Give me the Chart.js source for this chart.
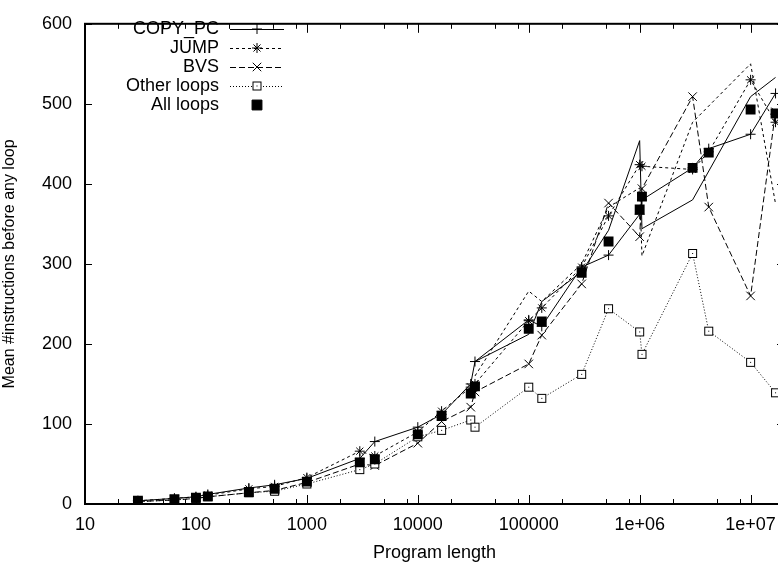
<!DOCTYPE html>
<html>
<head>
<meta charset="utf-8">
<script src="https://cdn.jsdelivr.net/npm/chart.js@4.4.0/dist/chart.umd.min.js"></script>
<style>
html, body { margin: 0; padding: 0; background: #fff; overflow: hidden; }
#wrap { width: 778px; height: 564px; overflow: hidden; }
</style>
</head>
<body>
<div id="wrap"><canvas id="chart" width="800" height="564"></canvas></div>
<script>
// program lengths (x)
var lengths = [30, 64, 100, 128, 300, 512, 1000, 3000, 4096, 10000, 16384, 30000, 32768,
               100000, 131072, 300000, 524288, 1000000, 1048576, 3000000, 4194304, 10000000, 16777216];

var copyPc = [4, 7, 9, 12, 20, 24, 32, 57, 78, 96, 112, 150, 178, 230, 222, 296, 311, 362, 380, 420, 444, 462, 513];
var jump   = [4, 7, 9, 11, 19, 22, 33, 66, 60, 90, 116, 146, 150, 229, 245, 296, 360, 424, 422, 418, 440, 530, 477];
var bvs    = [3, 5, 7, 9, 14, 17, 27, 50, 48, 76, 103, 121, 140, 175, 211, 275, 376, 334, 394, 509, 371, 260, 490];
var other  = [3, 5, 7, 9, 14, 16, 25, 43, 50, 84, 92, 105, 96, 146, 132, 162, 244, 215, 187, 313, 216, 177, 139];
var all    = [4, 6, 8, 9.5, 15, 19, 28, 52, 56, 87, 110, 138, 147, 219, 228, 289, 328, 368, 384, 420, 439, 493, 488];

// extra unlabelled lines (no markers)
var extraLengths = [32768, 100000, 131072, 300000, 524288, 1000000, 1048576, 3000000, 10000000, 16777216];
var solidExtra = [178, 212, 253, 290, 342, 454, 344, 380, 509, 533];
var dotExtra   = [160, 266, 253, 300, 371, 395, 310, 477, 550, 375];

var xTicks = [10, 100, 1000, 10000, 100000, 1000000, 10000000];

function pts(xs, ys) {
    return xs.map(function(x, i) { return {x: x, y: ys[i]}; });
}

// open square with a dot in the middle (gnuplot style)
var boxMark = document.createElement('canvas');
boxMark.width = 11; boxMark.height = 11;
(function() {
    var c = boxMark.getContext('2d');
    c.fillStyle = '#fff';
    c.fillRect(1, 1, 9, 9);
    c.strokeStyle = '#000';
    c.lineWidth = 1;
    c.strokeRect(1.5, 1.5, 8, 8);
    c.fillStyle = '#000';
    c.fillRect(5, 5, 1, 1);
})();

var FONT = '"Liberation Sans", Arial, sans-serif';

var frame = {
    id: 'frame',
    beforeDatasetsDraw: function(chart) {
        var ctx = chart.ctx, a = chart.chartArea;
        var xs = chart.scales.x, ys = chart.scales.y;
        ctx.save();
        ctx.strokeStyle = '#000';
        ctx.lineWidth = 1;
        ctx.beginPath();
        ys.ticks.forEach(function(t) {
            var py = Math.round(ys.getPixelForValue(t.value)) + 0.5;
            ctx.moveTo(a.left, py); ctx.lineTo(a.left + 7, py);
            ctx.moveTo(a.right, py); ctx.lineTo(a.right - 7, py);
        });
        xTicks.forEach(function(d) {
            [1, 2, 5, 8].forEach(function(m) {
                var v = d * m;
                if (v > xs.max) return;
                var len = m === 1 ? 9 : 5;
                var px = Math.round(xs.getPixelForValue(v)) + 0.5;
                ctx.moveTo(px, a.bottom); ctx.lineTo(px, a.bottom - len);
                ctx.moveTo(px, a.top); ctx.lineTo(px, a.top + len);
            });
        });
        ctx.stroke();
        ctx.lineWidth = 2;
        ctx.strokeRect(a.left, a.top, a.right - a.left, a.bottom - a.top);
        ctx.restore();
    },
    afterDatasetsDraw: function(chart) {
        var ctx = chart.ctx;
        ctx.save();
        ctx.font = '18px ' + FONT;
        ctx.textAlign = 'right';
        ctx.textBaseline = 'middle';
        var row = 0;
        chart.data.datasets.forEach(function(ds) {
            if (!ds.label) return;
            var y = 29 + row * 19;
            ctx.fillStyle = '#000';
            ctx.fillText(ds.label, 219, y);
            if (ds.showLine !== false) {
                ctx.beginPath();
                ctx.setLineDash(ds.borderDash || []);
                ctx.lineWidth = 1;
                ctx.strokeStyle = '#000';
                ctx.moveTo(230, y + 0.5); ctx.lineTo(284, y + 0.5);
                ctx.stroke();
                ctx.setLineDash([]);
            }
            ctx.fillStyle = ds.pointBackgroundColor;
            ctx.strokeStyle = '#000';
            Chart.helpers.drawPoint(ctx, {
                pointStyle: ds.pointStyle, radius: ds.pointRadius,
                rotation: 0, borderWidth: 1
            }, 257, y);
            row++;
        });
        ctx.restore();
    }
};

function series(label, ys, dash, style, radius, fill, order) {
    return {
        label: label,
        data: pts(lengths, ys),
        borderColor: '#000',
        borderWidth: 1,
        borderDash: dash,
        pointStyle: style,
        pointRadius: radius,
        pointBorderWidth: 1,
        pointBorderColor: '#000',
        pointBackgroundColor: fill,
        fill: false,
        tension: 0,
        order: order
    };
}

var datasets = [
    series('COPY_PC', copyPc, [], 'cross', 5, '#000', 5),
    series('JUMP', jump, [3, 3], 'star', 5, '#000', 4),
    series('BVS', bvs, [6, 3], 'crossRot', 6, '#000', 3),
    series('Other loops', other, [1, 2], boxMark, 5, '#fff', 2),
    {
        label: 'All loops',
        data: pts(lengths, all),
        showLine: false,
        pointStyle: 'rect',
        pointRadius: 7,
        pointBorderWidth: 0,
        pointBackgroundColor: '#000',
        pointBorderColor: '#000',
        order: 0
    },
    {
        label: '',
        data: pts(extraLengths, solidExtra),
        borderColor: '#000', borderWidth: 1, pointRadius: 0, tension: 0, order: 6
    },
    {
        label: '',
        data: pts(extraLengths, dotExtra),
        borderColor: '#000', borderWidth: 1, borderDash: [3, 3], pointRadius: 0, tension: 0, order: 7
    }
];

new Chart(document.getElementById('chart').getContext('2d'), {
    type: 'line',
    data: { datasets: datasets },
    options: {
        responsive: false,
        animation: false,
        devicePixelRatio: 1,
        layout: { padding: { top: 12, right: 16, left: 0, bottom: 0 } },
        plugins: {
            legend: { display: false },
            tooltip: { enabled: false }
        },
        scales: {
            x: {
                type: 'logarithmic',
                min: 10,
                max: 20000000,
                grid: { display: false, drawTicks: false },
                border: { display: false },
                afterBuildTicks: function(scale) {
                    scale.ticks = xTicks.map(function(v) { return {value: v}; });
                },
                afterFit: function(scale) { scale.height = 60; },
                ticks: {
                    color: '#000',
                    padding: 10,
                    maxRotation: 0,
                    autoSkip: false,
                    font: { family: FONT, size: 18 },
                    callback: function(v) {
                        return v >= 1000000 ? '1e+0' + Math.round(Math.log10(v)) : String(v);
                    }
                },
                title: {
                    display: true,
                    text: 'Program length',
                    color: '#000',
                    padding: { top: 1, bottom: 0 },
                    font: { family: FONT, size: 18 }
                }
            },
            y: {
                min: 0,
                max: 600,
                grid: { display: false, drawTicks: false },
                border: { display: false },
                afterFit: function(scale) { scale.width = 85; },
                ticks: {
                    stepSize: 100,
                    color: '#000',
                    padding: 13,
                    font: { family: FONT, size: 18 }
                },
                title: {
                    display: true,
                    text: 'Mean #instructions before any loop',
                    color: '#000',
                    padding: { top: 0, bottom: 0 },
                    font: { family: FONT, size: 16 }
                }
            }
        }
    },
    plugins: [frame]
});
</script>
</body>
</html>
